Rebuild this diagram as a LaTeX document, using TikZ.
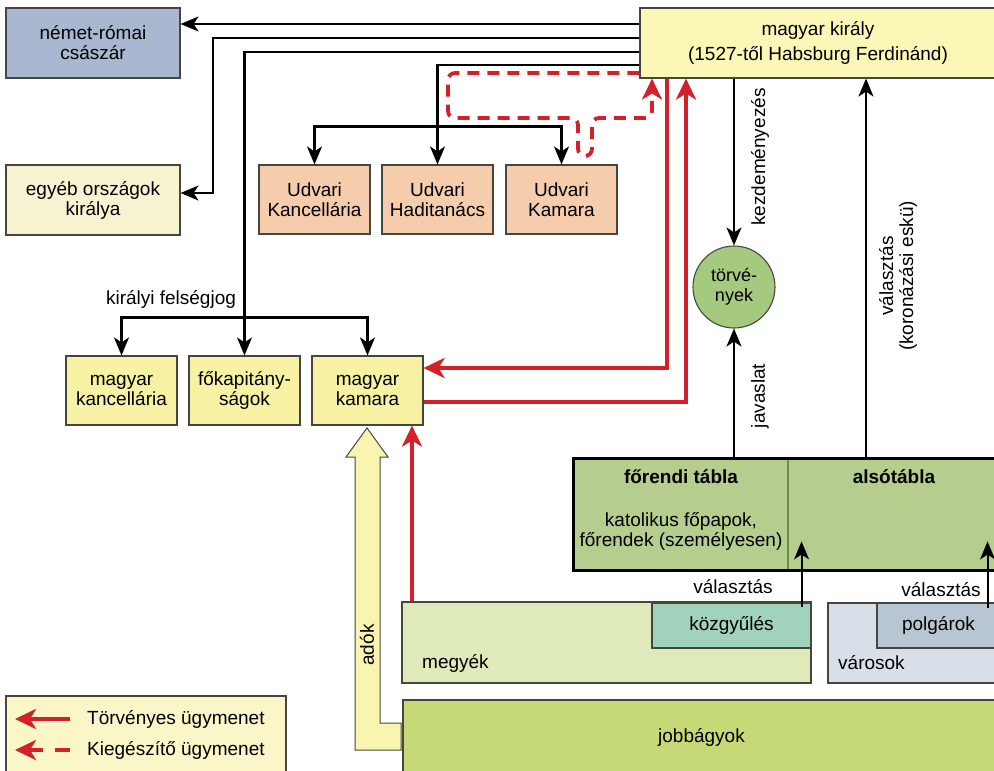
\documentclass[tikz,border=0pt]{standalone}
\usepackage{fontspec}
\setmainfont{Liberation Sans}
\usetikzlibrary{arrows.meta}

\definecolor{szurkekek}{RGB}{169,183,208}
\definecolor{krem}{RGB}{247,243,209}
\definecolor{kiralysarga}{RGB}{251,247,183}
\definecolor{barack}{RGB}{245,204,172}
\definecolor{sarga}{RGB}{247,241,163}
\definecolor{korzold}{RGB}{166,201,128}
\definecolor{tablazold}{RGB}{181,205,141}
\definecolor{tablavonal}{RGB}{110,140,80}
\definecolor{megyezold}{RGB}{222,234,185}
\definecolor{kozgyzold}{RGB}{160,210,188}
\definecolor{varosszurke}{RGB}{216,223,232}
\definecolor{polgarszurke}{RGB}{184,197,210}
\definecolor{jobbagyzold}{RGB}{197,218,119}
\definecolor{jelsarga}{RGB}{250,246,200}
\definecolor{adosarga}{RGB}{249,245,176}
\definecolor{piros}{RGB}{212,33,41}
\definecolor{keret}{RGB}{70,70,65}

\tikzset{
  felirat/.style={inner sep=0pt, align=center, font=\fontsize{19}{20}\selectfont},
  doboz/.style={felirat, draw=keret, line width=1.1pt},
  nyil/.style={->, line width=2.1pt},
  ketnyil/.style={<->, line width=2.1pt},
  torvenyes/.style={draw=piros, line width=3.8pt, -{Stealth[length=21pt,width=20pt,inset=6pt]}},
  kiegeszito/.style={torvenyes, dash pattern=on 12pt off 8pt},
}

\begin{document}
\begin{tikzpicture}[x=1pt, y=-1pt, >={Stealth[length=18pt,width=15pt,inset=5pt]}]
% A magyar király hatalma és az országgyűlés (1527 után)
\useasboundingbox (0,0) rectangle (994,771);

\node[doboz, fill=szurkekek, minimum width=174pt, minimum height=70pt] (nemet) at (93,43) {német-római\\császár};
\node[doboz, fill=krem, minimum width=174pt, minimum height=70pt] (egyeb) at (93,200) {egyéb országok\\királya};
\node[doboz, fill=kiralysarga, minimum width=356pt, minimum height=70pt] (kiraly) at (818,43) {magyar király\\[5pt](1527-től Habsburg Ferdinánd)};

\node[doboz, fill=barack, minimum width=111pt, minimum height=69pt] (udvkanc) at (314.5,199.5) {Udvari\\Kancellária};
\node[doboz, fill=barack, minimum width=111pt, minimum height=69pt] (udvhadi) at (437.5,199.5) {Udvari\\Haditanács};
\node[doboz, fill=barack, minimum width=111pt, minimum height=69pt] (udvkam) at (561.5,199.5) {Udvari\\Kamara};

\node[doboz, circle, fill=korzold, minimum size=82pt, font=\fontsize{18}{20}\selectfont] (torveny) at (734,287) {törvé-\\nyek};

\node[doboz, fill=sarga, minimum width=111pt, minimum height=69pt] (mkanc) at (121.5,390.5) {magyar\\kancellária};
\node[doboz, fill=sarga, minimum width=111pt, minimum height=69pt] (fokap) at (244.5,390.5) {főkapitány-\\ságok};
\node[doboz, fill=sarga, minimum width=111pt, minimum height=69pt] (mkam) at (367.5,390.5) {magyar\\kamara};

% országgyűlés
\node[doboz, fill=tablazold, draw=tablavonal, minimum width=214pt, minimum height=111pt] (forendi) at (681,514.5) {};
\node[doboz, fill=tablazold, draw=tablavonal, minimum width=212pt, minimum height=111pt] (also) at (894,514.5) {};
\draw[line width=2.5pt] (forendi.north west) rectangle (also.south east);
\node[felirat, font=\fontsize{19}{20}\selectfont\bfseries] (forendicim) at ([yshift=-18pt]forendi.north) {főrendi tábla};
\node[felirat] (forendiszoveg) at (681,531) {katolikus főpapok,\\főrendek (személyesen)};
\node[felirat, font=\fontsize{19}{20}\selectfont\bfseries] (alsocim) at ([yshift=-18pt]also.north) {alsótábla};

\node[doboz, fill=megyezold, minimum width=409pt, minimum height=81pt] (megyek) at (606.5,642.5) {};
\node[felirat, anchor=west] (megyekcim) at (422,663) {megyék};
\node[doboz, fill=kozgyzold, minimum width=159pt, minimum height=45pt] (kozgy) at (731.5,625.5) {közgyűlés};
\node[doboz, fill=varosszurke, minimum width=172pt, minimum height=80pt] (varosok) at (914,643) {};
\node[felirat, anchor=west] (varosokcim) at (838,663) {városok};
\node[doboz, fill=polgarszurke, minimum width=123pt, minimum height=45pt] (polgarok) at (938.5,625.5) {polgárok};
\node[doboz, fill=jobbagyzold, minimum width=597pt, minimum height=75pt] (jobbagy) at (701.5,737.5) {jobbágyok};

% adók
\draw[draw=keret, fill=adosarga, line width=1pt] (355,750) -- (401,750) -- (401,723) -- (380,723) -- (380,457) -- (388,457) -- (367,428) -- (346,457) -- (355,457) -- cycle;
\node[felirat, rotate=90] (adok) at (367,645) {adók};

% a király kapcsolatai
\draw[nyil] (kiraly.west |- 0,24) -- (nemet.east |- 0,24);
\draw[nyil] (kiraly.west |- 0,38) -| (213,193) -- (egyeb.east |- 0,193);
\draw[nyil] (kiraly.west |- 0,52) -| (fokap.north);
\draw[ketnyil] (mkanc.north) -- ++(0,-38) -| (mkam.north);
\node[felirat] (felseg) at (171,299) {királyi felségjog};
\draw[nyil] (kiraly.west |- 0,65) -| (udvhadi.north);
\draw[ketnyil] (udvkanc.north) -- ++(0,-38) -| (udvkam.north);

% ügymenet
\draw[kiegeszito, rounded corners=7pt] (kiraly.west |- 0,73) -- (448,73) -- (448,118) -- (578,118) -- (578,156) -- (592,156) -- (592,118) -- (652,118) -- (652,0 |- kiraly.south);
\draw[torvenyes] (667,0 |- kiraly.south) |- (mkam.east |- 0,368);
\draw[torvenyes] (mkam.east |- 0,402) -| (686,0 |- kiraly.south);
\draw[torvenyes] (412,0 |- megyek.north) -- (412,0 |- mkam.south);

% törvényhozás
\draw[nyil] (kiraly.south -| torveny) -- (torveny.north);
\node[felirat, rotate=90] (kezd) at (760,157) {kezdeményezés};
\draw[nyil] (forendi.north -| torveny) -- (torveny.south);
\node[felirat, rotate=90] (javasl) at (760,396) {javaslat};
\draw[nyil] (866,0 |- also.north) -- (866,0 |- kiraly.south);
\node[felirat, rotate=90] (koronaz) at (898,276) {választás\\(koronázási eskü)};
\draw[nyil] ([xshift=-10pt,yshift=-5pt]kozgy.north east) -- ++(0,-66);
\node[felirat] (valaszt1) at (733,587) {választás};
\draw[nyil] ([xshift=-13pt,yshift=-6pt]polgarok.north east) -- ++(0,-67);
\node[felirat] (valaszt2) at (941,590) {választás};

% jelmagyarázat
\node[doboz, fill=jelsarga, minimum width=280pt, minimum height=79pt] (jelmagy) at (146,735.5) {};
\draw[torvenyes] (70,719) -- (15,719);
\node[felirat, anchor=west] (jel1) at (87,719) {Törvényes ügymenet};
\draw[torvenyes] (43,750) -- (15,750);
\draw[draw=piros, line width=3.8pt] (55,750) -- (70,750);
\node[felirat, anchor=west] (jel2) at (87,750) {Kiegészítő ügymenet};
\end{tikzpicture}
\end{document}
